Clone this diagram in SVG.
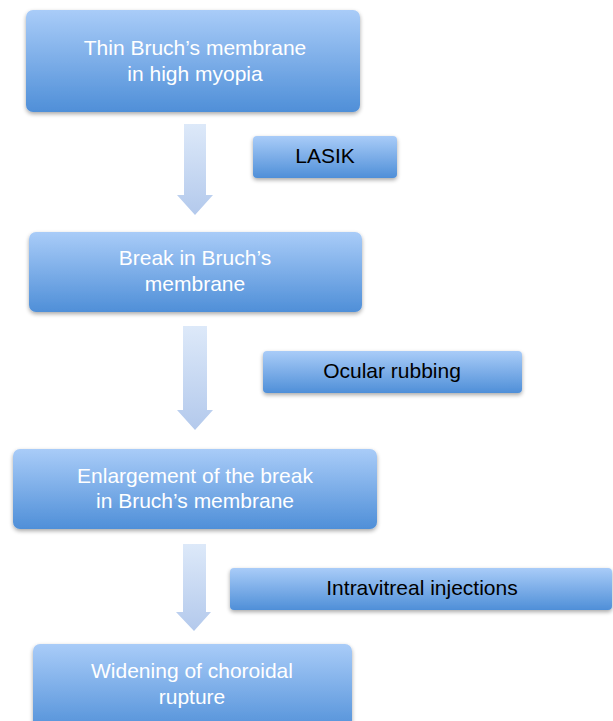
<svg xmlns="http://www.w3.org/2000/svg" width="613" height="721" viewBox="0 0 613 721">
<defs>
<linearGradient id="boxg" x1="0" y1="0" x2="0" y2="1">
<stop offset="0" stop-color="#a9ccf8"/>
<stop offset="1" stop-color="#4f8fd8"/>
</linearGradient>
<linearGradient id="arrg" x1="0" y1="0" x2="0" y2="1">
<stop offset="0" stop-color="#dde9f9"/>
<stop offset="1" stop-color="#b3c9ec"/>
</linearGradient>
<filter id="sh" x="-10%" y="-20%" width="120%" height="150%">
<feGaussianBlur in="SourceAlpha" stdDeviation="2"/>
<feOffset dx="0" dy="2" result="b"/>
<feComponentTransfer><feFuncA type="linear" slope="0.35"/></feComponentTransfer>
<feMerge><feMergeNode/><feMergeNode in="SourceGraphic"/></feMerge>
</filter>
</defs>
<style>
.box{fill:url(#boxg);filter:url(#sh)}
.main{font-family:"Liberation Sans",Arial,sans-serif;font-size:21px;fill:#ffffff;text-anchor:middle}
.side{font-family:"Liberation Sans",Arial,sans-serif;font-size:21px;fill:#000000;text-anchor:middle}
.arr{fill:url(#arrg)}
</style>
<rect width="613" height="721" fill="#ffffff"/>
<g id="connectors">
<path class="arr" d="M184,124 H206 V195 H213 L195,215 L177,195 H184 Z"/>
<path class="arr" d="M183,326 H207 V410 H213 L195,430 L177,410 H183 Z"/>
<path class="arr" d="M183,544 H206 V612 H211 L194,631 L176,612 H183 Z"/>
</g>
<g id="n1">
<rect class="box" x="26" y="10" width="334" height="102" rx="7"/>
<text class="main" x="195" y="55">Thin Bruch’s membrane</text>
<text class="main" x="195" y="81">in high myopia</text>
</g>
<g id="lasik">
<rect class="box" x="253" y="136" width="144" height="42" rx="4"/>
<text class="side" x="325" y="163">LASIK</text>
</g>
<g id="n2">
<rect class="box" x="29" y="232" width="333" height="80" rx="7"/>
<text class="main" x="195" y="265">Break in Bruch’s</text>
<text class="main" x="195" y="291">membrane</text>
</g>
<g id="ocular">
<rect class="box" x="263" y="351" width="259" height="42" rx="4"/>
<text class="side" x="392" y="378">Ocular rubbing</text>
</g>
<g id="n3">
<rect class="box" x="13" y="449" width="364" height="80" rx="7"/>
<text class="main" x="195" y="483">Enlargement of the break</text>
<text class="main" x="195" y="508">in Bruch’s membrane</text>
</g>
<g id="intravitreal">
<rect class="box" x="230" y="568" width="382" height="42" rx="4"/>
<text class="side" x="422" y="595">Intravitreal injections</text>
</g>
<g id="n4">
<rect class="box" x="33" y="644" width="319" height="90" rx="7"/>
<text class="main" x="192" y="678">Widening of choroidal</text>
<text class="main" x="192" y="704">rupture</text>
</g>
</svg>
